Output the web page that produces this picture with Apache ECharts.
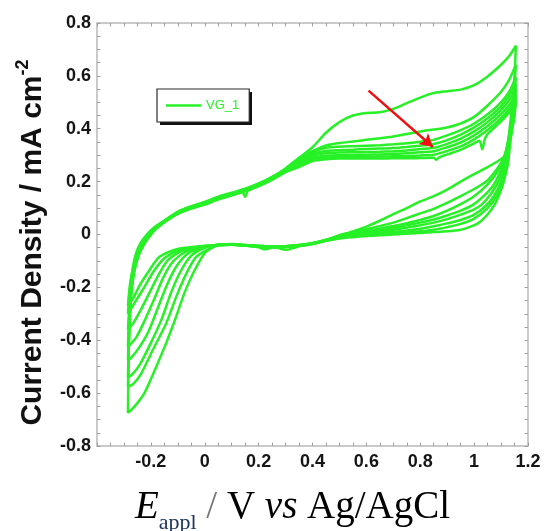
<!DOCTYPE html>
<html>
<head>
<meta charset="utf-8">
<script src="https://cdn.jsdelivr.net/npm/echarts@6/dist/echarts.min.js"></script>
<style>
  html, body { margin: 0; padding: 0; background: #fff; }
  #chart { width: 544px; height: 531px; }
</style>
</head>
<body>
<div id="chart"></div>
<script>
// Cyclic voltammograms of film VG_1: potential (V vs Ag/AgCl), current density (mA cm^-2)
// Each cycle: anodic sweep from -0.285 V up to 1.155 V, then cathodic sweep back.
const cycle1 = [[-0.285,-0.675],[-0.284,-0.56],[-0.282,-0.43],[-0.279,-0.31],[-0.275,-0.21],[-0.268,-0.13],[-0.255,-0.07],[-0.237,-0.03],[-0.215,0.0],[-0.19,0.025],[-0.16,0.045],[-0.1,0.083],[-0.05,0.103],[0,0.119],[0.05,0.139],[0.1,0.154],[0.15,0.169],[0.2,0.19],[0.25,0.216],[0.3,0.25],[0.35,0.29],[0.4,0.33],[0.45,0.385],[0.5,0.425],[0.55,0.45],[0.6,0.46],[0.65,0.462],[0.7,0.475],[0.75,0.497],[0.8,0.518],[0.85,0.535],[0.9,0.542],[0.95,0.548],[1.0,0.565],[1.05,0.598],[1.1,0.642],[1.13,0.675],[1.155,0.714],
  [1.15,0.6],[1.14,0.48],[1.128,0.37],[1.115,0.3],[1.095,0.282],[1.05,0.255],[1.0,0.228],[0.95,0.2],[0.9,0.17],[0.85,0.145],[0.8,0.125],[0.75,0.1],[0.7,0.077],[0.65,0.052],[0.6,0.03],[0.55,0.012],[0.5,-0.003],[0.45,-0.02],[0.4,-0.032],[0.35,-0.04],[0.3,-0.044],[0.25,-0.046],[0.2,-0.044],[0.15,-0.04],[0.1,-0.037],[0.05,-0.04],[0.02,-0.055],[0,-0.07],[-0.04,-0.14],[-0.075,-0.22],[-0.106,-0.31],[-0.143,-0.41],[-0.18,-0.5],[-0.224,-0.6],[-0.26,-0.65],[-0.285,-0.675]];

const cycle2 = [[-0.285,-0.576],[-0.283,-0.47],[-0.28,-0.36],[-0.276,-0.26],[-0.27,-0.18],[-0.26,-0.115],[-0.246,-0.06],[-0.228,-0.022],[-0.205,0.008],[-0.185,0.028],[-0.16,0.046],[-0.1,0.087],[-0.05,0.107],[0,0.123],[0.05,0.143],[0.1,0.158],[0.15,0.173],[0.2,0.193],[0.25,0.218],[0.3,0.249],[0.35,0.285],[0.4,0.315],[0.45,0.337],[0.5,0.346],[0.55,0.352],[0.6,0.358],[0.65,0.364],[0.7,0.371],[0.75,0.38],[0.8,0.39],[0.85,0.397],[0.9,0.405],[0.95,0.42],[1.0,0.445],[1.05,0.488],[1.1,0.54],[1.13,0.585],[1.155,0.642],
  [1.148,0.54],[1.14,0.45],[1.13,0.37],[1.115,0.3],[1.09,0.255],[1.05,0.205],[1.0,0.172],[0.95,0.145],[0.9,0.12],[0.85,0.097],[0.8,0.08],[0.75,0.062],[0.7,0.045],[0.65,0.032],[0.6,0.02],[0.55,0.008],[0.5,-0.005],[0.45,-0.022],[0.4,-0.034],[0.35,-0.042],[0.3,-0.046],[0.25,-0.048],[0.2,-0.045],[0.15,-0.041],[0.1,-0.038],[0.05,-0.041],[0.019,-0.052],[-0.031,-0.084],[-0.068,-0.147],[-0.106,-0.236],[-0.143,-0.336],[-0.193,-0.437],[-0.236,-0.526],[-0.265,-0.565],[-0.285,-0.576]];

const cycle3 = [[-0.285,-0.54],[-0.283,-0.44],[-0.279,-0.33],[-0.274,-0.24],[-0.266,-0.165],[-0.255,-0.105],[-0.24,-0.055],[-0.22,-0.018],[-0.2,0.01],[-0.18,0.03],[-0.16,0.044],[-0.1,0.08],[-0.05,0.1],[0,0.116],[0.05,0.136],[0.1,0.151],[0.15,0.166],[0.2,0.186],[0.25,0.21],[0.3,0.242],[0.35,0.28],[0.4,0.312],[0.45,0.328],[0.5,0.332],[0.55,0.334],[0.6,0.336],[0.65,0.338],[0.7,0.341],[0.75,0.345],[0.8,0.351],[0.85,0.358],[0.9,0.375],[0.95,0.395],[1.0,0.42],[1.05,0.455],[1.1,0.5],[1.13,0.54],[1.155,0.595],
  [1.148,0.5],[1.14,0.44],[1.128,0.36],[1.11,0.29],[1.085,0.235],[1.05,0.19],[1.0,0.145],[0.95,0.115],[0.9,0.09],[0.85,0.07],[0.8,0.055],[0.75,0.043],[0.7,0.032],[0.65,0.022],[0.6,0.014],[0.55,0.005],[0.5,-0.006],[0.45,-0.021],[0.4,-0.033],[0.35,-0.045],[0.3,-0.058],[0.27,-0.05],[0.25,-0.046],[0.2,-0.043],[0.15,-0.04],[0.1,-0.036],[0.05,-0.039],[0,-0.05],[-0.05,-0.08],[-0.09,-0.14],[-0.125,-0.22],[-0.16,-0.32],[-0.2,-0.41],[-0.24,-0.49],[-0.27,-0.53],[-0.285,-0.54]];

const cycle4 = [[-0.285,-0.475],[-0.282,-0.38],[-0.278,-0.29],[-0.272,-0.21],[-0.263,-0.145],[-0.25,-0.09],[-0.233,-0.045],[-0.212,-0.012],[-0.19,0.015],[-0.16,0.043],[-0.1,0.085],[-0.05,0.106],[0,0.122],[0.05,0.141],[0.1,0.156],[0.15,0.171],[0.2,0.191],[0.25,0.214],[0.3,0.243],[0.35,0.275],[0.4,0.305],[0.45,0.316],[0.5,0.319],[0.55,0.321],[0.6,0.323],[0.65,0.325],[0.7,0.327],[0.75,0.331],[0.8,0.336],[0.85,0.342],[0.9,0.357],[0.95,0.378],[1.0,0.405],[1.05,0.44],[1.1,0.485],[1.13,0.525],[1.155,0.57],
  [1.148,0.48],[1.14,0.42],[1.125,0.34],[1.105,0.26],[1.08,0.2],[1.05,0.16],[1.0,0.115],[0.95,0.09],[0.9,0.072],[0.85,0.057],[0.8,0.045],[0.75,0.035],[0.7,0.025],[0.65,0.017],[0.6,0.01],[0.55,0.001],[0.5,-0.008],[0.45,-0.022],[0.4,-0.034],[0.35,-0.041],[0.3,-0.045],[0.25,-0.047],[0.2,-0.046],[0.15,-0.042],[0.1,-0.039],[0.05,-0.041],[0,-0.048],[-0.06,-0.07],[-0.105,-0.12],[-0.14,-0.19],[-0.175,-0.28],[-0.21,-0.37],[-0.245,-0.43],[-0.272,-0.465],[-0.285,-0.475]];

const cycle5 = [[-0.285,-0.425],[-0.282,-0.34],[-0.277,-0.26],[-0.27,-0.19],[-0.26,-0.13],[-0.246,-0.08],[-0.228,-0.04],[-0.207,-0.008],[-0.185,0.018],[-0.16,0.042],[-0.1,0.079],[-0.05,0.099],[0,0.114],[0.05,0.134],[0.1,0.149],[0.15,0.164],[0.2,0.184],[0.25,0.208],[0.3,0.238],[0.35,0.27],[0.4,0.298],[0.45,0.307],[0.5,0.31],[0.55,0.311],[0.6,0.312],[0.65,0.313],[0.7,0.315],[0.75,0.318],[0.8,0.323],[0.85,0.328],[0.9,0.343],[0.95,0.363],[1.0,0.39],[1.05,0.425],[1.1,0.47],[1.13,0.508],[1.155,0.55],
  [1.148,0.46],[1.14,0.4],[1.125,0.32],[1.11,0.26],[1.09,0.2],[1.06,0.15],[1.03,0.115],[1.0,0.095],[0.95,0.075],[0.9,0.058],[0.85,0.045],[0.8,0.035],[0.75,0.026],[0.7,0.018],[0.65,0.011],[0.6,0.005],[0.55,-0.002],[0.5,-0.01],[0.45,-0.023],[0.4,-0.035],[0.35,-0.043],[0.3,-0.047],[0.25,-0.05],[0.22,-0.056],[0.2,-0.048],[0.15,-0.042],[0.1,-0.038],[0.05,-0.04],[0,-0.046],[-0.07,-0.065],[-0.12,-0.105],[-0.155,-0.165],[-0.19,-0.25],[-0.225,-0.33],[-0.255,-0.39],[-0.285,-0.425]];

const cycle6 = [[-0.285,-0.36],[-0.281,-0.29],[-0.276,-0.225],[-0.268,-0.165],[-0.257,-0.115],[-0.242,-0.07],[-0.224,-0.035],[-0.203,-0.005],[-0.182,0.02],[-0.16,0.04],[-0.1,0.084],[-0.05,0.104],[0,0.12],[0.05,0.139],[0.1,0.154],[0.15,0.169],[0.2,0.189],[0.25,0.212],[0.3,0.24],[0.35,0.265],[0.4,0.29],[0.45,0.298],[0.5,0.3],[0.55,0.301],[0.6,0.302],[0.65,0.303],[0.7,0.305],[0.75,0.307],[0.8,0.311],[0.85,0.315],[0.9,0.33],[0.95,0.348],[1.0,0.375],[1.05,0.41],[1.1,0.455],[1.13,0.49],[1.155,0.53],
  [1.148,0.44],[1.14,0.39],[1.13,0.33],[1.115,0.27],[1.1,0.2],[1.07,0.14],[1.04,0.105],[1.0,0.075],[0.95,0.055],[0.9,0.042],[0.85,0.031],[0.8,0.022],[0.75,0.015],[0.7,0.01],[0.65,0.005],[0.6,0.0],[0.55,-0.005],[0.5,-0.012],[0.45,-0.022],[0.4,-0.033],[0.35,-0.04],[0.3,-0.044],[0.25,-0.045],[0.2,-0.043],[0.15,-0.04],[0.1,-0.037],[0.05,-0.039],[0,-0.045],[-0.08,-0.06],[-0.135,-0.095],[-0.17,-0.15],[-0.205,-0.22],[-0.24,-0.29],[-0.265,-0.335],[-0.285,-0.36]];

const cycle7 = [[-0.285,-0.3],[-0.281,-0.24],[-0.275,-0.185],[-0.266,-0.135],[-0.254,-0.09],[-0.238,-0.052],[-0.218,-0.02],[-0.196,0.008],[-0.175,0.028],[-0.16,0.04],[-0.1,0.078],[-0.05,0.098],[0,0.113],[0.05,0.133],[0.1,0.148],[0.14,0.16],[0.15,0.142],[0.16,0.165],[0.2,0.183],[0.25,0.207],[0.3,0.236],[0.35,0.26],[0.4,0.284],[0.45,0.291],[0.5,0.293],[0.55,0.293],[0.6,0.294],[0.65,0.295],[0.7,0.296],[0.75,0.297],[0.8,0.299],[0.85,0.302],[0.9,0.316],[0.95,0.333],[1.0,0.36],[1.05,0.395],[1.1,0.44],[1.13,0.475],[1.155,0.515],
  [1.148,0.45],[1.14,0.4],[1.13,0.33],[1.118,0.26],[1.1,0.185],[1.08,0.14],[1.05,0.1],[1.0,0.06],[0.95,0.04],[0.9,0.028],[0.85,0.018],[0.8,0.012],[0.75,0.008],[0.7,0.004],[0.65,0.0],[0.6,-0.004],[0.55,-0.008],[0.5,-0.013],[0.45,-0.023],[0.4,-0.035],[0.35,-0.042],[0.3,-0.046],[0.25,-0.047],[0.2,-0.045],[0.15,-0.041],[0.1,-0.038],[0.05,-0.04],[0,-0.044],[-0.09,-0.057],[-0.15,-0.09],[-0.19,-0.14],[-0.225,-0.2],[-0.255,-0.25],[-0.285,-0.3]];

const cycle8 = [[-0.285,-0.27],[-0.28,-0.21],[-0.273,-0.16],[-0.263,-0.115],[-0.25,-0.075],[-0.233,-0.04],[-0.213,-0.012],[-0.192,0.012],[-0.172,0.03],[-0.16,0.039],[-0.1,0.082],[-0.05,0.102],[0,0.118],[0.05,0.137],[0.1,0.152],[0.15,0.167],[0.2,0.187],[0.25,0.211],[0.3,0.237],[0.35,0.255],[0.4,0.278],[0.45,0.285],[0.5,0.287],[0.55,0.287],[0.6,0.287],[0.65,0.287],[0.7,0.288],[0.75,0.288],[0.8,0.289],[0.85,0.29],[0.86,0.283],[0.87,0.292],[0.9,0.303],[0.95,0.32],[1.0,0.345],[1.02,0.355],[1.03,0.322],[1.04,0.362],[1.05,0.38],[1.1,0.428],[1.13,0.462],[1.155,0.5],
  [1.15,0.45],[1.145,0.42],[1.138,0.396],[1.126,0.27],[1.11,0.2],[1.1,0.169],[1.08,0.12],[1.063,0.093],[1.04,0.065],[1.014,0.042],[0.98,0.027],[0.95,0.018],[0.9,0.012],[0.85,0.009],[0.8,0.006],[0.75,0.003],[0.7,0.0],[0.65,-0.003],[0.6,-0.006],[0.55,-0.01],[0.5,-0.015],[0.45,-0.024],[0.4,-0.036],[0.35,-0.043],[0.3,-0.047],[0.25,-0.048],[0.2,-0.046],[0.15,-0.042],[0.1,-0.039],[0.05,-0.04],[0,-0.043],[-0.1,-0.055],[-0.168,-0.084],[-0.205,-0.134],[-0.24,-0.19],[-0.265,-0.24],[-0.285,-0.27]];

const cycles = [cycle1, cycle2, cycle3, cycle4, cycle5, cycle6, cycle7, cycle8];
const seriesName = 'VG_1';

// Axis ranges and tick spacing
const xRange = [-0.4, 1.2];
const yRange = [-0.8, 0.8];
const tickStep = 0.2;

// Arrow showing the decrease of the anodic current with cycling
const arrowFrom = [0.608, 0.544];
const arrowTo = [0.847, 0.331];

const GREEN = '#27f027';
const FRAME = '#b9b9b9';
const TICK = '#a0a0a0';
const SANS = '"Liberation Sans", Arial, Helvetica, sans-serif';
const SERIF = '"Liberation Serif", "Times New Roman", Times, serif';

function fmt(v) {
  const r = Math.round(v * 10) / 10;
  if (Math.abs(r - xRange[0]) < 1e-9) return '';
  return String(r);
}

function frameAxis(extra) {
  return Object.assign({
    type: 'value',
    interval: tickStep,
    axisLine: { show: true, onZero: false, lineStyle: { color: FRAME, width: 1.5 } },
    axisTick: { show: true, inside: true, length: 3.5, lineStyle: { color: TICK, width: 1 } },
    minorTick: { show: true, splitNumber: 4, length: 3.5, lineStyle: { color: TICK, width: 1 } },
    splitLine: { show: false },
    minorSplitLine: { show: false }
  }, extra);
}

const labelStyle = { fontFamily: SANS, fontSize: 18, fontWeight: 'bold', color: '#151515' };

const series = cycles.map((c, i) => {
  const s = {
    name: seriesName,
    type: 'line',
    data: c,
    showSymbol: false,
    symbol: 'none',
    smooth: 0.25,
    animation: false,
    lineStyle: { color: GREEN, width: 2.5 },
    itemStyle: { color: GREEN },
    z: 2
  };
  if (i === 0) {
    s.markLine = {
      silent: true,
      animation: false,
      symbol: ['none', 'arrow'],
      symbolSize: [11, 13],
      label: { show: false },
      lineStyle: { color: '#ee1111', width: 2.5, type: 'solid' },
      data: [[{ coord: arrowFrom }, { coord: arrowTo }]],
      z: 5
    };
  }
  return s;
});

const chart = echarts.init(document.getElementById('chart'), null, { renderer: 'canvas' });
chart.setOption({
  backgroundColor: '#ffffff',
  animation: false,
  grid: { left: 97, right: 16, top: 23, bottom: 85, containLabel: false, outerBoundsMode: 'none' },
  // hard drop shadow under the legend box
  graphic: [{
    type: 'rect',
    left: 160, top: 92,
    shape: { width: 92, height: 33 },
    style: { fill: '#111111' },
    z: 3,
    silent: true
  }],
  legend: {
    data: [seriesName],
    left: 157,
    top: 89,
    orient: 'vertical',
    icon: 'rect',
    padding: [9, 10, 9, 9],
    itemWidth: 35,
    itemHeight: 2.5,
    backgroundColor: '#ffffff',
    borderColor: '#2a2a2a',
    borderWidth: 1.2,
    borderRadius: 0,
    selectedMode: false,
    z: 4,
    textStyle: { color: GREEN, fontFamily: SANS, fontSize: 13, lineHeight: 15 }
  },
  xAxis: [
    frameAxis({
      position: 'bottom',
      min: xRange[0], max: xRange[1],
      axisLabel: Object.assign({ margin: 7, formatter: fmt }, labelStyle),
      name: '{e|E}{sub|appl}{sl| / }{n|V }{i|vs}{n| Ag/AgCl}',
      nameLocation: 'middle',
      nameGap: 36,
      nameTextStyle: {
        fontFamily: SERIF,
        color: '#000',
        padding: [0, 40, 0, 0],
        rich: {
          e: { fontFamily: SERIF, fontStyle: 'italic', fontSize: 39, lineHeight: 52, color: '#000' },
          sub: { fontFamily: SERIF, fontSize: 22, lineHeight: 22, verticalAlign: 'bottom', color: '#1d3561' },
          sl: { fontFamily: SERIF, fontSize: 39, lineHeight: 52, color: '#777' },
          n: { fontFamily: SERIF, fontSize: 39, lineHeight: 52, color: '#000' },
          i: { fontFamily: SERIF, fontStyle: 'italic', fontSize: 39, lineHeight: 52, color: '#000' }
        }
      }
    }),
    frameAxis({
      position: 'top',
      min: xRange[0], max: xRange[1],
      axisLabel: { show: false }
    })
  ],
  yAxis: [
    frameAxis({
      position: 'left',
      min: yRange[0], max: yRange[1],
      axisLabel: Object.assign({ margin: 6, formatter: v => String(Math.round(v * 10) / 10) }, labelStyle),
      name: '{m|Current Density / mA cm}{s|-2}',
      nameLocation: 'middle',
      nameRotate: 90,
      nameGap: 46,
      nameTextStyle: {
        padding: [0, 16, 0, 0],
        rich: {
          m: { fontFamily: SANS, fontSize: 30, fontWeight: 'bold', lineHeight: 37, color: '#111' },
          s: { fontFamily: SANS, fontSize: 18, fontWeight: 'bold', lineHeight: 18, verticalAlign: 'top', color: '#111' }
        }
      }
    }),
    frameAxis({
      position: 'right',
      min: yRange[0], max: yRange[1],
      axisLabel: { show: false }
    })
  ],
  series: series
});
</script>
</body>
</html>
